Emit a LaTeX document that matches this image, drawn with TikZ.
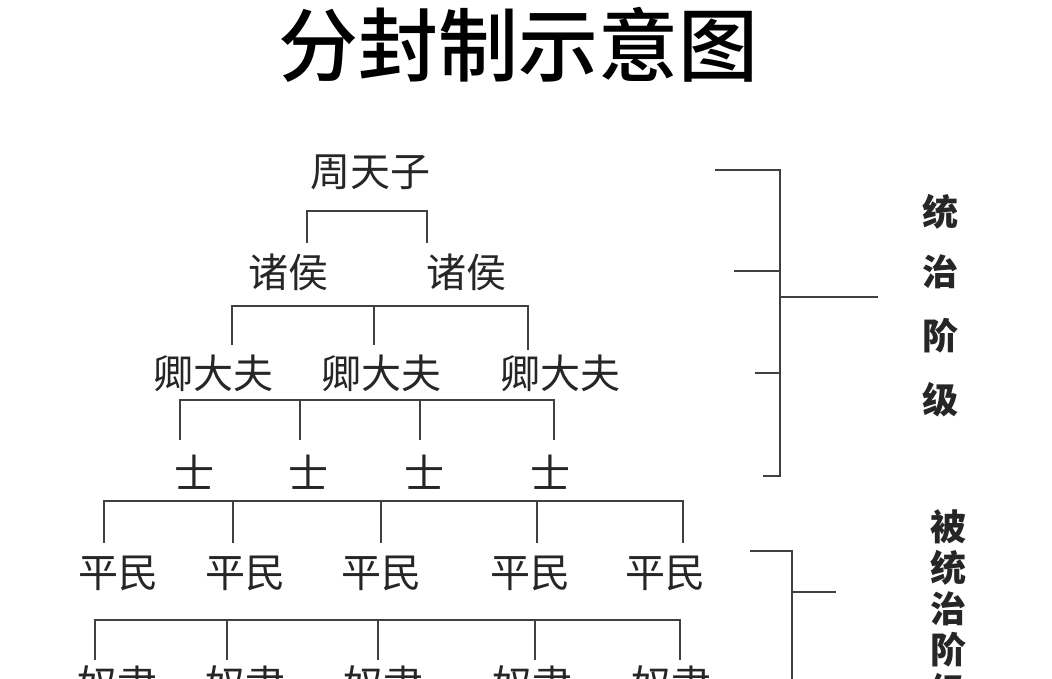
\documentclass[tikz,border=0pt]{standalone}
\usepackage{fontspec}
\newfontfamily\cjk{Noto Sans CJK SC}
\newfontfamily\cjkm{Noto Sans CJK SC Medium}
\begin{document}
\begin{tikzpicture}[x=0.75pt,y=-0.75pt,
  lbl/.style={font=\cjk\fontsize{30}{33}\selectfont,text=black!85,inner sep=0pt},
  side/.style={font=\cjk\bfseries\fontsize{27}{30}\selectfont,text=black!85,inner sep=0pt},
  ln/.style={draw=black!75,line width=1.1pt}]
\useasboundingbox (0,0) rectangle (1052,678);
\node[font=\cjkm\fontsize{60}{64}\selectfont,inner sep=0pt] (title) at (518,45) {分封制示意图};
\node[lbl] (z) at (370,172) {周天子};
\node[lbl] (h1) at (288,272) {诸侯};
\node[lbl] (h2) at (466,272) {诸侯};
\node[lbl] (q1) at (213,373) {卿大夫};
\node[lbl] (q2) at (381,373) {卿大夫};
\node[lbl] (q3) at (560,373) {卿大夫};
\node[lbl] (s1) at (194,472) {士};
\node[lbl] (s2) at (308,472) {士};
\node[lbl] (s3) at (424,472) {士};
\node[lbl] (s4) at (550,472) {士};
\node[lbl] (p1) at (118,573) {平民};
\node[lbl] (p2) at (245,573) {平民};
\node[lbl] (p3) at (381,573) {平民};
\node[lbl] (p4) at (530,573) {平民};
\node[lbl] (p5) at (665,573) {平民};
\node[lbl] (n1) at (117,684) {奴隶};
\node[lbl] (n2) at (245,684) {奴隶};
\node[lbl] (n3) at (383,684) {奴隶};
\node[lbl] (n4) at (532,684) {奴隶};
\node[lbl] (n5) at (671,684) {奴隶};
% tree connectors
\draw[ln] (307,243) -- (307,211) -- (427,211) -- (427,243);
\draw[ln] (232,345) -- (232,306) -- (528,306) -- (528,350);
\draw[ln] (374,306) -- (374,345);
\draw[ln] (180,440) -- (180,400) -- (554,400) -- (554,440);
\draw[ln] (300,400) -- (300,440);
\draw[ln] (420,400) -- (420,440);
\draw[ln] (104,543) -- (104,501) -- (683,501) -- (683,543);
\draw[ln] (233,501) -- (233,543);
\draw[ln] (381,501) -- (381,543);
\draw[ln] (537,501) -- (537,543);
\draw[ln] (95,660) -- (95,620) -- (680,620) -- (680,660);
\draw[ln] (227,620) -- (227,660);
\draw[ln] (378,620) -- (378,660);
\draw[ln] (535,620) -- (535,660);
% brackets
\coordinate (ba) at (715,170);
\coordinate (bb) at (780,170);
\coordinate (bc) at (780,476);
\coordinate (bd) at (763,476);
\draw[ln] (ba) -- (bb) -- (bc) -- (bd);
\draw[ln] (734,271) -- (780,271);
\draw[ln] (755,373) -- (780,373);
\draw[ln] (780,297) -- (878,297);
\draw[ln] (750,551) -- (792,551) -- (792,680);
\draw[ln] (792,592) -- (836,592);
\node[side] (t1) at (940,212) {统};
\node[side] (t2) at (940,272) {治};
\node[side] (t3) at (940,336) {阶};
\node[side] (t4) at (940,400) {级};
\node[side] (u1) at (948,527) {被};
\node[side] (u2) at (948,568) {统};
\node[side] (u3) at (948,609) {治};
\node[side] (u4) at (948,650) {阶};
\node[side] (u5) at (948,691) {级};
\end{tikzpicture}
\end{document}
